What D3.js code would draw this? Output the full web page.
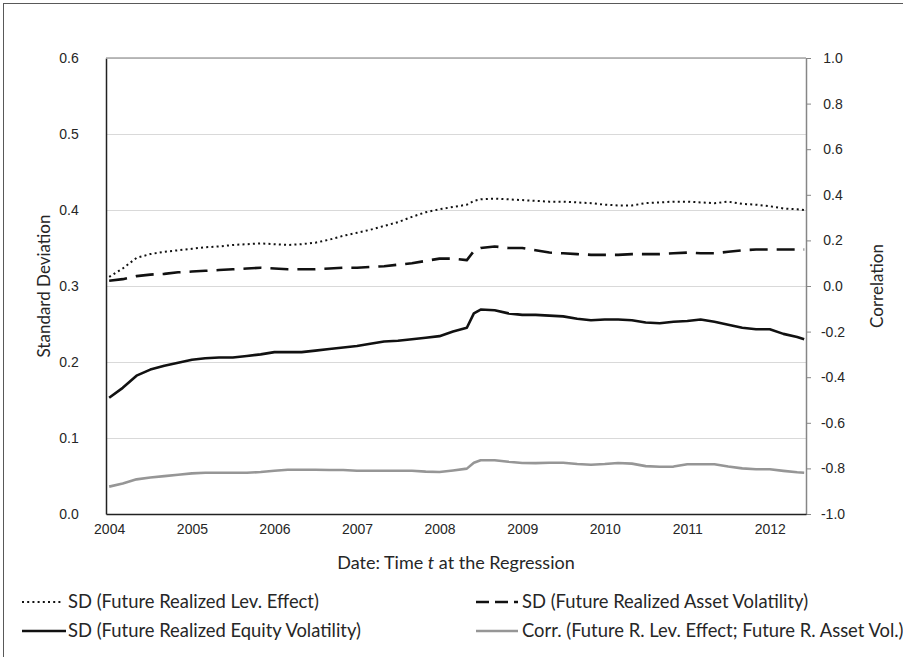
<!DOCTYPE html>
<html>
<head>
<meta charset="utf-8">
<script src="https://cdn.jsdelivr.net/npm/d3@7"></script>
<style>
  body { margin: 0; background: #fff; }
  svg { display: block; font-family: Lato, "Open Sans", sans-serif; }
</style>
</head>
<body>
<svg id="chart" width="903" height="657"></svg>
<script>
// sample dates (every two months, plus the June 2008 jump)
const dates = [
  "2004-01","2004-03","2004-05","2004-07","2004-09","2004-11",
  "2005-01","2005-03","2005-05","2005-07","2005-09","2005-11",
  "2006-01","2006-03","2006-05","2006-07","2006-09","2006-11",
  "2007-01","2007-03","2007-05","2007-07","2007-09","2007-11",
  "2008-01","2008-03","2008-05","2008-06","2008-07","2008-09","2008-11",
  "2009-01","2009-03","2009-05","2009-07","2009-09","2009-11",
  "2010-01","2010-03","2010-05","2010-07","2010-09","2010-11",
  "2011-01","2011-03","2011-05","2011-07","2011-09","2011-11",
  "2012-01","2012-03","2012-05","2012-06"
];

// SD (Future Realized Lev. Effect) - left axis
const sdLev = [
  0.312,0.323,0.337,0.342,0.345,0.347,
  0.349,0.351,0.352,0.354,0.355,0.356,
  0.355,0.354,0.355,0.357,0.361,0.366,
  0.370,0.374,0.379,0.384,0.391,0.397,
  0.401,0.404,0.407,0.412,0.414,0.415,0.414,
  0.413,0.412,0.411,0.411,0.410,0.409,
  0.407,0.406,0.406,0.409,0.410,0.411,
  0.411,0.410,0.409,0.411,0.408,0.407,
  0.405,0.402,0.401,0.400
];

// SD (Future Realized Asset Volatility) - left axis
const sdAsset = [
  0.307,0.309,0.313,0.315,0.316,0.318,
  0.319,0.320,0.321,0.322,0.323,0.324,
  0.323,0.322,0.322,0.322,0.323,0.324,
  0.324,0.325,0.326,0.328,0.330,0.333,
  0.336,0.336,0.334,0.346,0.350,0.352,0.350,
  0.350,0.347,0.344,0.343,0.342,0.341,
  0.341,0.341,0.342,0.342,0.342,0.343,
  0.344,0.343,0.343,0.345,0.347,0.348,
  0.348,0.348,0.348,0.348
];

// SD (Future Realized Equity Volatility) - left axis
const sdEquity = [
  0.153,0.166,0.182,0.190,0.195,0.199,
  0.203,0.205,0.206,0.206,0.208,0.210,
  0.213,0.213,0.213,0.215,0.217,0.219,
  0.221,0.224,0.227,0.228,0.230,0.232,
  0.234,0.240,0.245,0.264,0.269,0.268,0.264,
  0.262,0.262,0.261,0.260,0.257,0.255,
  0.256,0.256,0.255,0.252,0.251,0.253,
  0.254,0.256,0.253,0.249,0.245,0.243,
  0.243,0.237,0.233,0.230
];

// Corr. (Future R. Lev. Effect; Future R. Asset Vol.) - right axis
const corrLevAsset = [
  -0.880,-0.866,-0.848,-0.840,-0.834,-0.828,
  -0.822,-0.819,-0.819,-0.819,-0.819,-0.816,
  -0.810,-0.806,-0.806,-0.806,-0.807,-0.807,
  -0.810,-0.810,-0.810,-0.810,-0.810,-0.814,
  -0.816,-0.809,-0.801,-0.775,-0.764,-0.764,-0.771,
  -0.776,-0.777,-0.775,-0.775,-0.781,-0.784,
  -0.781,-0.776,-0.779,-0.790,-0.793,-0.792,
  -0.782,-0.782,-0.782,-0.792,-0.800,-0.804,
  -0.804,-0.811,-0.817,-0.819
];

const yearTicks = [2004,2005,2006,2007,2008,2009,2010,2011,2012];
const leftTicks = [0,0.1,0.2,0.3,0.4,0.5,0.6];
const rightTicks = [-1,-0.8,-0.6,-0.4,-0.2,0,0.2,0.4,0.6,0.8,1];

const legendItems = [
  {label: "SD (Future Realized Lev. Effect)", key: "lev"},
  {label: "SD (Future Realized Asset Volatility)", key: "asset"},
  {label: "SD (Future Realized Equity Volatility)", key: "equity"},
  {label: "Corr. (Future R. Lev. Effect; Future R. Asset Vol.)", key: "corr"}
];

const styles = {
  lev:    {stroke: "#111", width: 2,   dash: "2,3.2"},
  asset:  {stroke: "#111", width: 2.6, dash: "18,9"},
  equity: {stroke: "#111", width: 2.6, dash: null},
  corr:   {stroke: "#969696", width: 2.6, dash: null}
};

const parse = d3.timeParse("%Y-%m");
const dd = dates.map(parse);

const pLeft = 106, pRight = 806, pTop = 58, pBottom = 514;
const txt = "#262626";

const svg = d3.select("#chart");

// outer frame
svg.append("rect")
  .attr("x", 3.5).attr("y", 3.5)
  .attr("width", 920).attr("height", 680)
  .attr("fill", "none").attr("stroke", "#595959").attr("stroke-width", 1);

const x = d3.scaleTime()
  .domain([new Date(2003, 11, 18), new Date(2012, 5, 9)])
  .range([pLeft, pRight]);
const yL = d3.scaleLinear().domain([0, 0.6]).range([pBottom, pTop]);
const yR = d3.scaleLinear().domain([-1, 1]).range([pBottom, pTop]);

// gridlines
svg.append("g").selectAll("line")
  .data(leftTicks.filter(d => d > 0))
  .join("line")
  .attr("x1", pLeft).attr("x2", pRight)
  .attr("y1", d => Math.round(yL(d)) + 0.5)
  .attr("y2", d => Math.round(yL(d)) + 0.5)
  .attr("stroke", "#d9d9d9").attr("stroke-width", 1);

function drawLine(vals, yScale, st) {
  const line = d3.line()
    .x((d, i) => x(dd[i]))
    .y(d => yScale(d));
  const p = svg.append("path")
    .datum(vals)
    .attr("d", line)
    .attr("fill", "none")
    .attr("stroke", st.stroke)
    .attr("stroke-width", st.width)
    .attr("stroke-linejoin", "round");
  if (st.dash) p.attr("stroke-dasharray", st.dash);
}

drawLine(sdLev, yL, styles.lev);
drawLine(sdAsset, yL, styles.asset);
drawLine(sdEquity, yL, styles.equity);
drawLine(corrLevAsset, yR, styles.corr);

const fmt = d => d.toFixed(1);

// left axis
const gL = svg.append("g")
  .attr("transform", `translate(${pLeft},0)`)
  .call(d3.axisLeft(yL).tickValues(leftTicks).tickFormat(fmt).tickSize(0).tickPadding(25));
gL.select(".domain").attr("stroke", "#222").attr("stroke-width", 1.5);
gL.selectAll("text").attr("font-size", 14).attr("fill", txt).attr("text-anchor", "middle").attr("dx", -12);

// right axis
const gR = svg.append("g")
  .attr("transform", `translate(${pRight},0)`)
  .call(d3.axisRight(yR).tickValues(rightTicks).tickFormat(fmt).tickSize(5).tickSizeOuter(0).tickPadding(8));
gR.select(".domain").attr("stroke", "#868686").attr("stroke-width", 1.5);
gR.selectAll("line").attr("stroke", "#868686");
gR.selectAll("text").attr("font-size", 14).attr("fill", txt).attr("text-anchor", "middle").attr("dx", 14);

// bottom axis
const gB = svg.append("g")
  .attr("transform", `translate(0,${pBottom})`)
  .call(d3.axisBottom(x)
    .tickValues(yearTicks.map(yy => new Date(yy, 0, 1)))
    .tickFormat(d3.timeFormat("%Y"))
    .tickSize(0).tickSizeOuter(0).tickPadding(10));
gB.select(".domain").attr("stroke", "#222").attr("stroke-width", 1.5);
gB.selectAll("text").attr("font-size", 14).attr("fill", txt);

// top border of plot
svg.append("line")
  .attr("x1", pLeft).attr("x2", pRight)
  .attr("y1", pTop).attr("y2", pTop)
  .attr("stroke", "#a6a6a6").attr("stroke-width", 1.5);

// axis titles
svg.append("text")
  .attr("transform", `translate(50,${(pTop + pBottom) / 2}) rotate(-90)`)
  .attr("text-anchor", "middle")
  .attr("font-size", 17).attr("fill", txt)
  .text("Standard Deviation");

svg.append("text")
  .attr("transform", `translate(883,${(pTop + pBottom) / 2}) rotate(-90)`)
  .attr("text-anchor", "middle")
  .attr("font-size", 17).attr("fill", txt)
  .text("Correlation");

const xt = svg.append("text")
  .attr("x", 456).attr("y", 569)
  .attr("text-anchor", "middle")
  .attr("font-size", 18).attr("fill", txt);
xt.append("tspan").text("Date: Time ");
xt.append("tspan").attr("font-style", "italic").text("t");
xt.append("tspan").text(" at the Regression");

// legend
const legendPos = [
  {x1: 22, x2: 62, tx: 68, y: 602},
  {x1: 476, x2: 518, tx: 522, y: 602},
  {x1: 22, x2: 66, tx: 68, y: 631},
  {x1: 476, x2: 518, tx: 522, y: 631}
];
const lg = svg.append("g").selectAll("g")
  .data(legendItems)
  .join("g");
lg.append("line")
  .attr("x1", (d, i) => legendPos[i].x1)
  .attr("x2", (d, i) => legendPos[i].x2)
  .attr("y1", (d, i) => legendPos[i].y)
  .attr("y2", (d, i) => legendPos[i].y)
  .attr("stroke", d => styles[d.key].stroke)
  .attr("stroke-width", d => styles[d.key].width)
  .attr("stroke-dasharray", d => d.key === "asset" ? "13,6" : styles[d.key].dash);
lg.append("text")
  .attr("x", (d, i) => legendPos[i].tx)
  .attr("y", (d, i) => legendPos[i].y)
  .attr("dy", "0.35em")
  .attr("font-size", 18.4).attr("fill", txt)
  .text(d => d.label);
</script>
</body>
</html>
